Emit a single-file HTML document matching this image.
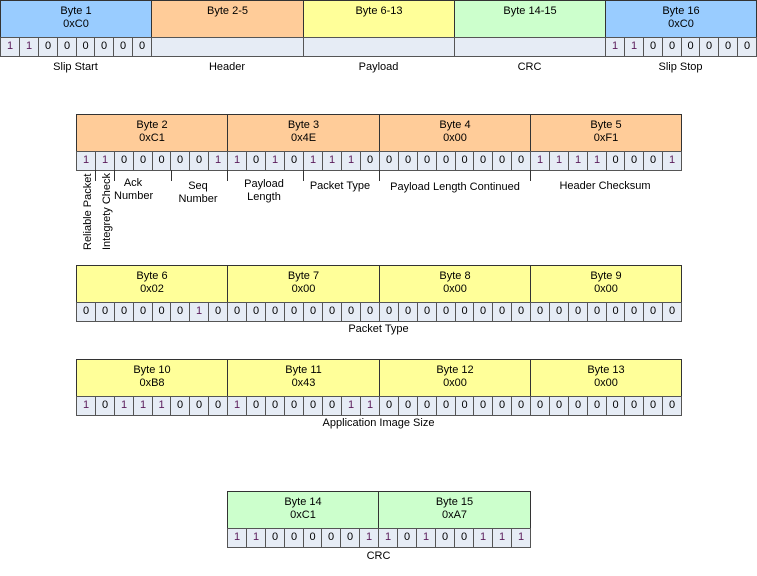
<!DOCTYPE html>
<html><head><meta charset="utf-8"><style>
body{margin:0;width:757px;height:565px;background:#fff;position:relative;overflow:hidden;font-family:"Liberation Sans",Arial,sans-serif;font-size:11px;color:#000}
.b{position:absolute;box-sizing:border-box;border:1px solid #333;text-align:center}
.h{line-height:13px;padding-top:4px}
.bit{line-height:17px;background:#e6ecf5;border:1px solid #555}
.l{position:absolute;text-align:center;line-height:13px;white-space:nowrap}
.t{position:absolute;width:1px;background:#333}
.p{color:#5a1a5a}
</style></head><body>
<script>
const R=document.body;
function el(c,x,y,w,h,txt,bg){const d=document.createElement('div');d.className=c;d.style.cssText=`left:${x}px;top:${y}px;width:${w}px;height:${h}px;`+(bg?`background:${bg};`:'');d.innerHTML=txt||'';R.appendChild(d);return d;}
const BL='#99ccff',OR='#ffcc99',YE='#ffff99',GR='#ccffcc';
function byte(x,y,w,title,bg,bits){
 el('b h',x,y,w+1,38,title,bg);
 if(bits){const bw=w/8;for(let i=0;i<8;i++){const xs=Math.round(x+i*bw),xe=Math.round(x+(i+1)*bw);
  el('b bit',xs,y+37,xe-xs+1,20,bits[i]=='1'?'<span class="p">1</span>':'0');}}
 else el('b bit',x,y+37,w+1,20,'');
}
function lab(x,y,w,t){el('l',x,y,w,26,t);}
byte(0,0,151,'Byte 1<br>0xC0',BL,'11000000');
byte(151,0,152,'Byte 2-5',OR,null);
byte(303,0,151,'Byte 6-13',YE,null);
byte(454,0,151,'Byte 14-15',GR,null);
byte(605,0,151,'Byte 16<br>0xC0',BL,'11000000');
lab(0,61,151,'Slip Start');lab(151,61,152,'Header');lab(303,61,151,'Payload');lab(454,61,151,'CRC');lab(605,61,151,'Slip Stop');
const X0=76,BW=151.25;
function row(y,bg,titles,bits){for(let i=0;i<4;i++)byte(Math.round(X0+i*BW),y,Math.round(X0+(i+1)*BW)-Math.round(X0+i*BW),titles[i],bg,bits[i]);}
row(114,OR,['Byte 2<br>0xC1','Byte 3<br>0x4E','Byte 4<br>0x00','Byte 5<br>0xF1'],['11000001','10101110','00000000','11110001']);
const bitW=BW/8;
[1,2,5,8,12,16,24].forEach(i=>el('t',Math.round(X0+i*bitW),170,1,11));
function vt(x,t){const d=el('l',x,250,75,13,t);d.style.transformOrigin='0 0';d.style.transform='rotate(-90deg)';d.style.textAlign='right';}
vt(82,'Reliable Packet');vt(101,'Integrety Check');
lab(114,177,38,'Ack<br>Number');lab(170,180,56,'Seq<br>Number');lab(232,178,64,'Payload<br>Length');lab(302,180,76,'Packet Type');lab(380,181,150,'Payload Length Continued');lab(530,180,150,'Header Checksum');
row(265,YE,['Byte 6<br>0x02','Byte 7<br>0x00','Byte 8<br>0x00','Byte 9<br>0x00'],['00000010','00000000','00000000','00000000']);
lab(76,323,605,'Packet Type');
row(359,YE,['Byte 10<br>0xB8','Byte 11<br>0x43','Byte 12<br>0x00','Byte 13<br>0x00'],['10111000','10000011','00000000','00000000']);
lab(76,417,605,'Application Image Size');
byte(227,491,151,'Byte 14<br>0xC1',GR,'11000001');
byte(378,491,152,'Byte 15<br>0xA7',GR,'10100111');
lab(227,550,303,'CRC');
</script>
</body></html>
